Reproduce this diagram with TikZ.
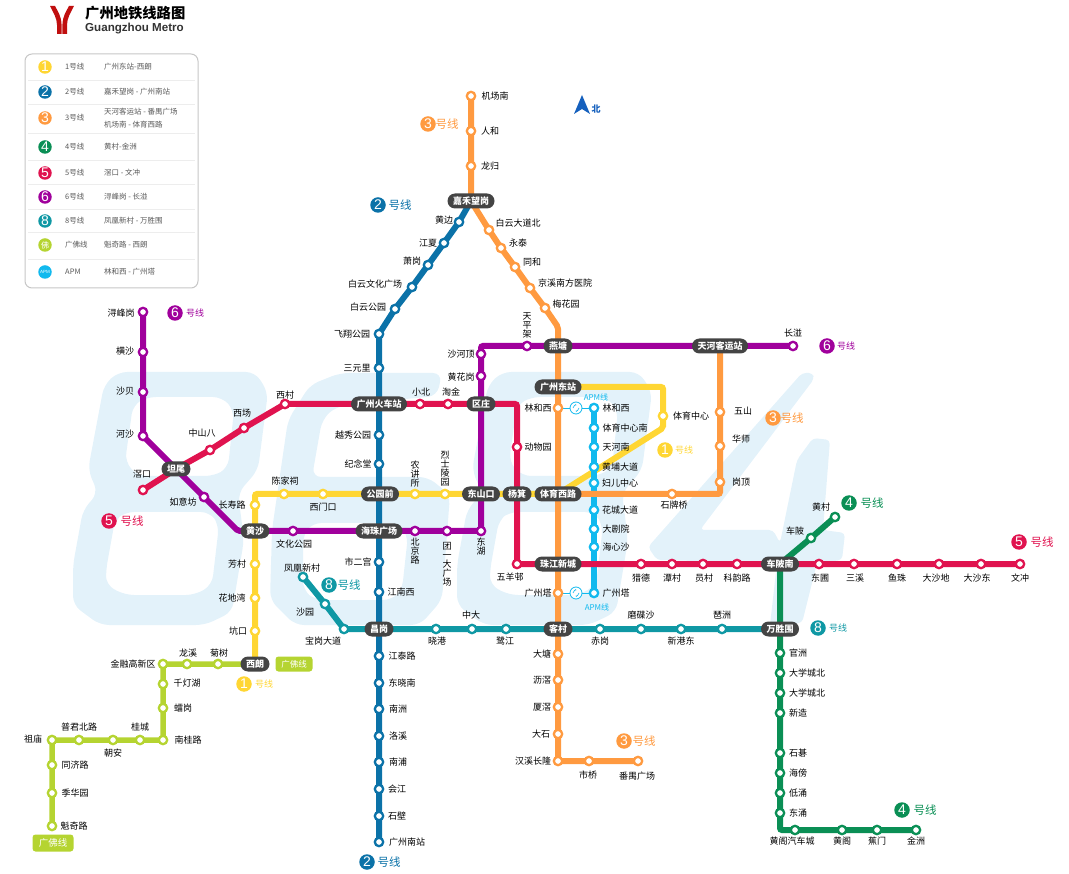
\documentclass[tikz,border=0pt]{standalone}
\usepackage{fontspec}
\setmainfont{Noto Sans CJK SC}
\newfontfamily\cjkfont{Noto Sans CJK SC}
\newfontfamily\latinfont{Liberation Sans}
\usetikzlibrary{arrows.meta,positioning,calc}

\definecolor{lineone}{HTML}{FFD633}
\definecolor{linetwo}{HTML}{0B72A8}
\definecolor{linethree}{HTML}{FF9A40}
\definecolor{linefour}{HTML}{0A8F55}
\definecolor{linefive}{HTML}{E0134F}
\definecolor{linesix}{HTML}{A0009C}
\definecolor{lineeight}{HTML}{0F98A4}
\definecolor{linegf}{HTML}{B5D431}
\definecolor{lineapm}{HTML}{11B9EE}
\definecolor{hubgray}{HTML}{444444}
\definecolor{palewm}{HTML}{E3F2FA}
\definecolor{logored}{HTML}{C00F0F}
\definecolor{northblue}{HTML}{1560BD}

\pgfdeclarelayer{lines}
\pgfsetlayers{lines,main}

\tikzset{
  stationring/.style={circle,draw=#1,fill=white,line width=2.3pt,minimum size=8.4pt,inner sep=0pt},
  stlabel/.style={font=\fontsize{9}{9}\selectfont,text=black,inner sep=0pt,align=center},
  hub/.style={rectangle,rounded corners=7.5pt,fill=hubgray,text=white,minimum height=15pt,
    inner xsep=5.5pt,inner ysep=0pt,font=\fontsize{9}{10}\selectfont\bfseries},
  track/.style={draw=#1,line width=6pt,rounded corners=2pt},
  badge/.style={circle,fill=#1,text=white,inner sep=0pt,minimum size=15.5pt,font=\latinfont\fontsize{14}{14}\selectfont},
  badgetext/.style={text=#1,inner sep=0pt,font=\fontsize{11.5}{12}\selectfont},
  smalltext/.style={text=#1,inner sep=0pt,font=\fontsize{9}{10}\selectfont},
  legendtext/.style={anchor=west,text=black!65,inner sep=0pt,align=left,font=\fontsize{7.5}{13}\selectfont},
  gftag/.style={rectangle,rounded corners=3pt,fill=linegf,text=white,inner sep=0pt,minimum height=15pt,font=\fontsize{8.5}{10}\selectfont},
  apmicon/.style={circle,draw=lineapm,fill=white,line width=0.8pt,minimum size=12pt,inner sep=0pt},
  wm/.style={fill=palewm,even odd rule,rounded corners=9pt},
}

\newcommand{\stations}[2]{%
  \foreach \nm/\x/\y/\txt/\lx/\ly in {#2} {
    \node[stationring=#1] (\nm) at (\x,\y) {};
    \node[stlabel] (t\nm) at (\lx,\ly) {\txt};
  }}

\begin{document}
\begin{tikzpicture}[x=1pt,y=-1pt]
  \useasboundingbox (0,0) rectangle (1069,874); % 画像全体の大きさ

  % ロゴと題名
  \fill[logored] (50,6) -- (55,6) .. controls (58,12) and (61,15) .. (61.6,25) -- (61.6,34) -- (57,34) -- (57,25) .. controls (57,18) and (53,12) .. (50,6) -- cycle;
  \fill[logored] (74,6) -- (69,6) .. controls (66,12) and (63,15) .. (62.4,25) -- (62.4,34) -- (67,34) -- (67,25) .. controls (67,18) and (71,12) .. (74,6) -- cycle;
  \node[anchor=west,inner sep=0pt,font=\fontsize{14.3}{15}\selectfont\bfseries] (title) at (85,13.5) {广州地铁线路图};
  \node[anchor=west,inner sep=0pt,text=black!80,font=\latinfont\fontsize{11.6}{13}\selectfont\bfseries] (subtitle) at (85,28.5) {Guangzhou Metro};

  % 凡例
  \draw[black!22,line width=1pt,rounded corners=7pt,fill=white] (25,54) rectangle (198,288);
  \foreach \y in {80,104,133,160,184,209,232,259}
    \draw[black!7,line width=0.7pt] (28,\y) -- (195,\y); % 行の区切り
  \foreach \nm/\col/\num/\y/\nme/\route in {
    one/lineone/1/67/1号线/{广州东站-西朗},
    two/linetwo/2/92/2号线/{嘉禾望岗 - 广州南站},
    three/linethree/3/118/3号线/{天河客运站 - 番禺广场\\机场南 - 体育西路},
    four/linefour/4/147/4号线/{黄村-金洲},
    five/linefive/5/173/5号线/{滘口 - 文冲},
    six/linesix/6/197/6号线/{浔峰岗 - 长湴},
    eight/lineeight/8/221/8号线/{凤凰新村 - 万胜围},
    gf/linegf/{\cjkfont\fontsize{8}{8}\selectfont 佛}/245/广佛线/{魁奇路 - 西朗},
    apm/lineapm/{\fontsize{4.5}{5}\selectfont APM}/272/APM/{林和西 - 广州塔}} {
    \node[badge=\col,minimum size=13.5pt] (key\nm) at (45,\y) {\num};
    \node[legendtext] (keyname\nm) at (65,\y) {\nme};
    \node[legendtext] (keyroute\nm) at (104,\y) {\route};
  }

  % 北の矢印
  \fill[northblue] (582,95) -- (590,114) -- (582,109) -- (574,114) -- cycle;
  \node[smalltext=northblue,font=\fontsize{9}{10}\selectfont\bfseries] (northmark) at (596,109) {北};

  % 乗換駅
  \foreach \nm/\x/\y/\txt in {
    jiahe/471/201/嘉禾望岗, yantang/558/346/燕塘, tianhekeyun/720/346/天河客运站,
    gzdong/558/387/广州东站, gzhuoche/379/404/广州火车站, quzhuang/481/404/区庄,
    gongyuanqian/380/494/公园前, dongshankou/481/494/东山口, yangji/517/494/杨箕,
    tiyuxi/558/494/体育西路, haizhu/379/531/海珠广场, huangsha/255/531/黄沙,
    tanwei/176/469/坦尾, zhujiang/558/564/珠江新城, chebeinan/780/564/车陂南,
    changgang/379/629/昌岗, kecun/558/629/客村, wansheng/780/629/万胜围, xilang/255/664/西朗}
    \node[hub] (\nm) at (\x,\y) {\txt};

  % 3号線の駅
  \stations{linethree}{
    jichangnan/471/96/机场南/495/96, renhe/471/131/人和/490/131, longgui/471/166/龙归/490/166,
    baiyundadao/489/230/白云大道北/518/223, yongtai/501/248/永泰/518/243, tonghe/515/267/同和/532/262,
    jingxi/530/288/京溪南方医院/565/283, meihua/545/308/梅花园/566/304,
    linhexio/558/408/林和西/538/408, guangzhoutao/558/593/广州塔/538/593,
    datang/558/654/大塘/542/654, lijiao/558/680/沥滘/542/680, xiajiao/558/707/厦滘/542/707,
    dashi/558/734/大石/541/734, hanxi/558/761/汉溪长隆/533/761, shiqiao/589/761/市桥/588/775,
    panyu/638/761/番禺广场/637/776, shipai/672/494/石牌桥/674/505, gangding/720/482/岗顶/741/482,
    huashi/720/446/华师/741/439, wushan/720/412/五山/743/411}
  % 2号線の駅
  \stations{linetwo}{
    huangbian/459/222/黄边/444/220, jiangxia/444/243/江夏/428/243, xiaogang/428/265/萧岗/412/261,
    baiyunwenhua/412/287/白云文化广场/375/284, baiyungongyuan/395/309/白云公园/368/307,
    feixiang/379/334/飞翔公园/352/334, sanyuanli/379/368/三元里/357/368, yuexiu/379/435/越秀公园/353/435,
    jinian/379/464/纪念堂/358/464, shiergong/379/562/市二宫/358/562, jiangnanxi/379/592/江南西/401/592,
    jiangtai/379/656/江泰路/402/656, dongxiao/379/683/东晓南/402/683, nanzhou/379/709/南洲/398/709,
    luoxi/379/736/洛溪/398/736, nanpu/379/762/南浦/398/762, huijiang/379/789/会江/397/789,
    shibi/379/816/石壁/397/816, guangzhounan/379/842/广州南站/407/842}
  % 6号線の駅
  \stations{linesix}{
    xunfeng/143/312/浔峰岗/121/313, hengsha/143/352/横沙/125/351, shabei/143/392/沙贝/125/391,
    hesha/143/436/河沙/125/434, ruyi/204/497/如意坊/183/502, wenhua/293/531/文化公园/294/544,
    beijinglu/415/531/{北\\京\\路}/415/551, tuanyi/447/531/{团\\一\\大\\广\\场}/447/564, donghu/481/531/{东\\湖}/481/547,
    huanghua/481/376/黄花岗/461/377, shaheding/481/354/沙河顶/461/354, tianping/527/346/{天\\平\\架}/527/325,
    changban/793/346/长湴/793/333}
  % 5号線の駅
  \stations{linefive}{
    jiaokou/143/490/滘口/142/474, zhongshanba/210/450/中山八/202/433, xichang/244/428/西场/242/413,
    xicun/285/404/西村/285/395, xiaobei/420/404/小北/421/392, taojin/448/404/淘金/451/392,
    dongwuyuan/517/447/动物园/538/447, wuyang/517/564/五羊邨/510/577, liede/641/564/猎德/641/578,
    tancun/672/564/潭村/672/578, yuancun/703/564/员村/704/578, keyun/737/564/科韵路/737/578,
    dongpu/819/564/东圃/820/578, sanxi/854/564/三溪/855/578, yuzhu/897/564/鱼珠/897/578,
    dashadi/939/564/大沙地/936/578, dashadong/981/564/大沙东/977/578, wenchong/1020/564/文冲/1020/578}
  % 1号線の駅
  \stations{lineone}{
    tiyuzhongxin/663/416/体育中心/691/416, lieshi/445/494/{烈\\士\\陵\\园}/445/469, nongjiang/415/494/{农\\讲\\所}/415/474,
    ximenkou/323/494/西门口/323/507, chenjiaci/284/494/陈家祠/285/481, changshou/255/505/长寿路/232/505,
    fangcun/255/564/芳村/237/564, huadiwan/255/598/花地湾/232/598, kengkou/255/631/坑口/238/631}
  % APM線の駅
  \stations{lineapm}{
    linhexia/594/408/林和西/616/408, tiyunan/594/428/体育中心南/625/428, tianhenan/594/447/天河南/616/447,
    huangpu/594/467/黄埔大道/620/467, fuer/594/483/妇儿中心/620/483, huacheng/594/510/花城大道/620/510,
    dajuyuan/594/529/大剧院/616/529, haixin/594/547/海心沙/616/547, guangzhoutaa/594/593/广州塔/616/593}
  % 8号線の駅
  \stations{lineeight}{
    fenghuang/303/577/凤凰新村/302/568, shayuan/325/604/沙园/305/612, baogang/344/629/宝岗大道/323/641,
    xiaogangb/436/629/晓港/437/641, zhongda/472/629/中大/471/615, lujiang/506/629/鹭江/505/641,
    chigang/600/629/赤岗/600/641, modie/641/629/磨碟沙/641/615, xingangdong/681/629/新港东/681/641,
    pazhou/722/629/琶洲/722/615}
  % 4号線の駅
  \stations{linefour}{
    huangcun/835/517/黄村/821/507, chebei/811/538/车陂/795/531, guanzhou/780/653/官洲/798/653,
    daxuebei/780/673/大学城北/807/673, daxuenan/780/693/大学城北/807/693, xinzao/780/713/新造/798/713,
    shiqi/780/753/石碁/798/753, haibang/780/773/海傍/798/773, dichong/780/793/低涌/798/793,
    dongchong/780/813/东涌/798/813, qichecheng/795/830/黄阁汽车城/792/841, huangge/842/830/黄阁/842/841,
    jiaomen/877/830/蕉门/877/841, jinzhou/916/830/金洲/916/841}
  % 広佛線の駅
  \stations{linegf}{
    jinrong/163/664/金融高新区/133/664, longxi/187/664/龙溪/188/653, jushu/218/664/菊树/219/653,
    qiandeng/163/684/千灯湖/187/683, leigang/163/708/𧒽岗/183/708, nangui/163/740/南桂路/188/740,
    guicheng/140/740/桂城/140/727, chaoan/113/740/朝安/113/753, pujun/79/740/普君北路/79/727,
    zumiao/52/740/祖庙/33/739, tongji/52/765/同济路/75/765, jihua/52/793/季华园/75/793, kuiqi/52/826/魁奇路/74/826}

  % APM線の連絡マーク
  \node[apmicon] (iconup) at (576,408) {};
  \node[apmicon] (icondown) at (576,593) {};
  \foreach \ic in {iconup,icondown} {
    \draw[lineapm,line width=0.6pt,-{Stealth[length=1.6pt]}] (\ic.center) ++(-3,0) arc[start angle=180,end angle=280,radius=3];
    \draw[lineapm,line width=0.6pt,-{Stealth[length=1.6pt]}] (\ic.center) ++(3,0) arc[start angle=0,end angle=100,radius=3];
  }
  \node[smalltext=lineapm,font=\fontsize{8}{9}\selectfont] (apmup) at (596,397) {APM线};
  \node[smalltext=lineapm,font=\fontsize{8}{9}\selectfont] (apmdown) at (597,607) {APM线};

  % 路線番号の印
  \foreach \nm/\col/\num/\bx/\by/\lx/\ly in {
    bthreea/linethree/3/428/124/447/124, btwoa/linetwo/2/378/205/400/205, bfivea/linefive/5/109/521/132/521,
    beighta/lineeight/8/329/585/349/585, btwob/linetwo/2/367/862/389/862, bthreeb/linethree/3/624/741/644/741,
    bfourb/linefour/4/902/810/925/810, bfoura/linefour/4/849/503/872/503, bfiveb/linefive/5/1019/542/1042/542,
    bthreec/linethree/3/773/418/792/418} {
    \node[badge=\col] (\nm) at (\bx,\by) {\num};
    \node[badgetext=\col] (t\nm) at (\lx,\ly) {号线};
  }
  \foreach \nm/\col/\num/\bx/\by/\lx/\ly in {
    bsixa/linesix/6/175/313/195/313, bsixb/linesix/6/827/346/846/346, bonea/lineone/1/244/684/264/684,
    boneb/lineone/1/665/450/684/450, beightb/lineeight/8/818/628/838/628} {
    \node[badge=\col] (\nm) at (\bx,\by) {\num};
    \node[smalltext=\col] (t\nm) at (\lx,\ly) {号线};
  }

  % 広佛線の札
  \node[gftag,minimum width=37pt] (gftagup) at (294,664) {广佛线};
  \node[gftag,minimum width=41pt,minimum height=17pt,font=\fontsize{9.5}{10}\selectfont] (gftagdown) at (53,843) {广佛线};

  % 路線の曲がり角
  \coordinate (threebend) at (558,327);
  \coordinate (threecorner) at (720,494);
  \coordinate (sixcorner) at (481,346);
  \coordinate (sixbend) at (238,531);
  \coordinate (fivecorna) at (517,404);
  \coordinate (onecorna) at (663,387);
  \coordinate (onecornb) at (663,428);
  \coordinate (onecornc) at (255,494);
  \coordinate (fourcorner) at (780,830);

  \begin{pgfonlayer}{lines}
    % 背景の大きな数字 8684
    \foreach \sx in {0,384} {
      \begin{scope}[shift={(\sx,0)}]
        \fill[wm] (118,372) -- (255,372) -- (268,392) -- (258,470) -- (238,493) -- (244,540) -- (232,612) -- (205,625) -- (100,625) -- (73,605) -- (73,565) -- (83,510) -- (98,493) -- (88,470) -- (104,385) -- cycle
          (147,397) -- (222,397) -- (234,410) -- (228,468) -- (214,476) -- (138,476) -- (125,462) -- (133,405) -- cycle
          (125,512) -- (210,512) -- (219,525) -- (212,585) -- (195,595) -- (125,595) -- (106,585) -- (106,570) -- (115,520) -- cycle;
      \end{scope}
    }
    \fill[wm] (340,373) -- (442,373) -- (437,396) -- (395,400) -- (335,407) -- (322,420) -- (312,477) -- (428,477) -- (450,495) -- (442,600) -- (420,625) -- (295,625) -- (270,600) -- (272,530) -- (288,420) -- (310,385) -- cycle
      (312,523) -- (398,523) -- (408,535) -- (402,590) -- (392,600) -- (315,600) -- (303,590) -- (303,535) -- cycle;
    \fill[palewm,rounded corners=4pt] (802,373) -- (813,373) -- (814,379) -- (700,530) -- (773,530) -- (780,543) -- (797,460) -- (813,438) -- (830,440) -- (823,530) -- (845,533) -- (842,560) -- (817,563) -- (802,623) -- (770,625) -- (777,563) -- (657,560) -- (648,547) -- cycle;

    % 路線
    \draw[track=lineone] (gzdong.center) -- (onecorna) -- (onecornb) -- (tiyuxi.center) -- (yangji.center) -- (dongshankou.center) -- (lieshi.center) -- (nongjiang.center) -- (gongyuanqian.center) -- (ximenkou.center) -- (chenjiaci.center) -- (onecornc) -- (changshou.center) -- (huangsha.center) -- (fangcun.center) -- (huadiwan.center) -- (kengkou.center) -- (xilang.center);
    \draw[lineapm,line width=0.9pt] (linhexio.center) -- (iconup) -- (linhexia.center);
    \draw[lineapm,line width=0.9pt] (guangzhoutao.center) -- (icondown) -- (guangzhoutaa.center);
    \draw[track=lineapm] (linhexia.center) -- (guangzhoutaa.center);
    \draw[track=linethree] (jichangnan.center) -- (jiahe.center) -- (baiyundadao.center) -- (yongtai.center) -- (tonghe.center) -- (jingxi.center) -- (meihua.center) -- (threebend) -- (yantang.center) -- (hanxi.center) -- (shiqiao.center) -- (panyu.center);
    \draw[track=linethree] (tiyuxi.center) -- (threecorner) -- (tianhekeyun.center);
    \draw[track=linetwo] (jiahe.center) -- (huangbian.center) -- (jiangxia.center) -- (xiaogang.center) -- (baiyunwenhua.center) -- (baiyungongyuan.center) -- (feixiang.center) -- (guangzhounan.center);
    \draw[track=linesix] (xunfeng.center) -- (hesha.center) -- (tanwei.center) -- (ruyi.center) -- (sixbend) -- (huangsha.center) -- (wenhua.center) -- (haizhu.center) -- (beijinglu.center) -- (tuanyi.center) -- (donghu.center) -- (dongshankou.center) -- (quzhuang.center) -- (huanghua.center) -- (shaheding.center) -- (sixcorner) -- (tianping.center) -- (yantang.center) -- (tianhekeyun.center) -- (changban.center);
    \draw[track=linefive] (jiaokou.center) -- (tanwei.center) -- (zhongshanba.center) -- (xichang.center) -- (xicun.center) -- (gzhuoche.center) -- (xiaobei.center) -- (taojin.center) -- (quzhuang.center) -- (fivecorna) -- (dongwuyuan.center) -- (yangji.center) -- (wuyang.center) -- (zhujiang.center) -- (liede.center) -- (wenchong.center);
    \draw[track=lineeight] (fenghuang.center) -- (shayuan.center) -- (baogang.center) -- (changgang.center) -- (kecun.center) -- (wansheng.center);
    \draw[track=linefour] (huangcun.center) -- (chebei.center) -- (chebeinan.center) -- (wansheng.center) -- (fourcorner) -- (qichecheng.center) -- (jinzhou.center);
    \draw[track=linegf,line width=5.5pt] (xilang.center) -- (jushu.center) -- (longxi.center) -- (jinrong.center) -- (nangui.center) -- (guicheng.center) -- (chaoan.center) -- (pujun.center) -- (zumiao.center) -- (kuiqi.center);
  \end{pgfonlayer}
\end{tikzpicture}
\end{document}
